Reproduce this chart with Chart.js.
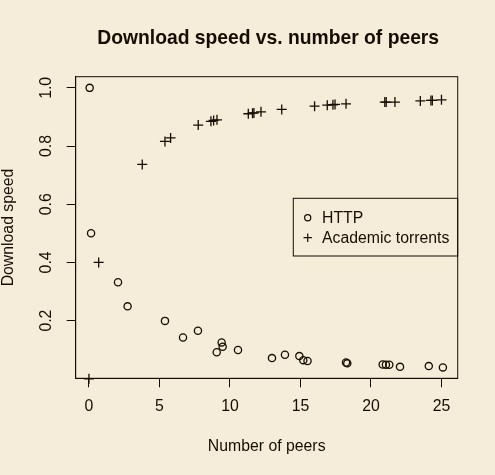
<!DOCTYPE html>
<html><head><meta charset="utf-8">
<script src="https://cdn.jsdelivr.net/npm/chart.js@4"></script>
<style>html,body{margin:0;padding:0;background:#F5EDDA;overflow:hidden}#wrap{width:495px;height:475px}</style>
</head><body><div id="wrap"><canvas id="c" width="495" height="475"></canvas></div>
<script>
// ---- data ----
const httpPeers = [0.05, 0.15, 2.06, 2.74, 5.39, 6.67, 7.73, 9.06, 9.41, 9.48, 10.57, 12.98, 13.9, 14.92, 15.2, 15.5, 18.23, 18.32, 20.83, 21.06, 21.3, 22.06, 24.1, 25.1];
const httpSpeed = [1.0, 0.5, 0.332, 0.249, 0.199, 0.142, 0.165, 0.091, 0.125, 0.110, 0.099, 0.071, 0.0825, 0.078, 0.064, 0.061, 0.056, 0.053, 0.049, 0.048, 0.048, 0.041, 0.0436, 0.039];
const torrentPeers = [0, 0.69, 3.78, 5.39, 5.79, 7.75, 8.65, 8.84, 9.08, 11.3, 11.6, 11.7, 12.2, 13.67, 16.0, 16.9, 17.3, 17.45, 18.23, 20.98, 21.08, 21.7, 23.5, 24.25, 24.35, 25.0];
const torrentSpeed = [0, 0.4, 0.737, 0.816, 0.828, 0.872, 0.885, 0.888, 0.890, 0.911, 0.913, 0.914, 0.9175, 0.926, 0.937, 0.9405, 0.942, 0.943, 0.945, 0.951, 0.951, 0.951, 0.955, 0.957, 0.957, 0.959];
const xTicks = [0, 5, 10, 15, 20, 25];
const yTicks = [0.2, 0.4, 0.6, 0.8, 1.0];
const seriesNames = ['HTTP', 'Academic torrents'];
const titleText = 'Download speed vs. number of peers';
const xTitle = 'Number of peers';
const yTitle = 'Download speed';

// ---- style ----
const INK = '#160d00';
const BG = '#F5EDDA';
const FONT = '"Liberation Sans", Arial, Helvetica, sans-serif';
const FS = 15.8;

const toPts = (xs, ys) => xs.map((x, i) => ({x: x, y: ys[i]}));

const rPlugin = {
  id: 'rstyle',
  beforeDraw(chart) {
    const ctx = chart.ctx;
    ctx.save();
    ctx.fillStyle = BG;
    ctx.fillRect(0, 0, chart.width, chart.height);
    ctx.restore();
  },
  afterDraw(chart) {
    const ctx = chart.ctx;
    const a = chart.chartArea;
    const ys = chart.scales.y;
    const cx = (a.left + a.right) / 2;
    ctx.save();
    ctx.strokeStyle = INK;
    ctx.lineWidth = 1;
    ctx.strokeRect(a.left, a.top, a.right - a.left, a.bottom - a.top);
    ctx.fillStyle = INK;
    // title
    ctx.font = 'bold 19.3px ' + FONT;
    ctx.textAlign = 'center';
    ctx.textBaseline = 'middle';
    ctx.fillText(titleText, cx + 1.5, 38.5);
    // x title
    ctx.font = FS + 'px ' + FONT;
    ctx.fillText(xTitle, cx, 446.5);
    // y title
    ctx.save();
    ctx.translate(8.8, (a.top + a.bottom) / 2);
    ctx.rotate(-Math.PI / 2);
    ctx.fillText(yTitle, 0, 0);
    ctx.restore();
    // y tick labels (rotated, R style)
    ys.ticks.forEach(t => {
      const py = ys.getPixelForValue(t.value);
      ctx.save();
      ctx.translate(47, py);
      ctx.rotate(-Math.PI / 2);
      ctx.fillText(t.value.toFixed(1), 0, 0);
      ctx.restore();
    });
    // legend
    const lx = 293.3, ly = 198.3, lw = a.right - lx, lh = 57.7;
    ctx.strokeRect(lx, ly, lw, lh);
    ctx.textAlign = 'left';
    ctx.lineWidth = 1.2;
    ctx.beginPath();
    ctx.arc(lx + 14.4, ly + 19.4, 3.1, 0, Math.PI * 2);
    ctx.stroke();
    ctx.fillText(seriesNames[0], lx + 28.7, ly + 20);
    ctx.beginPath();
    ctx.moveTo(lx + 14.4 - 4.2, ly + 39.4); ctx.lineTo(lx + 14.4 + 4.2, ly + 39.4);
    ctx.moveTo(lx + 14.4, ly + 39.4 - 4.2); ctx.lineTo(lx + 14.4, ly + 39.4 + 4.2);
    ctx.stroke();
    ctx.fillText(seriesNames[1], lx + 28.7, ly + 40);
    ctx.restore();
  }
};

new Chart(document.getElementById('c'), {
  type: 'scatter',
  data: {
    datasets: [
      {
        label: seriesNames[0],
        data: toPts(httpPeers, httpSpeed),
        pointStyle: 'circle',
        pointRadius: 3.6,
        pointBorderWidth: 1.3,
        borderColor: INK,
        backgroundColor: 'rgba(0,0,0,0)',
        pointHoverRadius: 3.6,
        clip: false
      },
      {
        label: seriesNames[1],
        data: toPts(torrentPeers, torrentSpeed),
        pointStyle: 'cross',
        pointRadius: 5,
        pointBorderWidth: 1.3,
        borderColor: INK,
        backgroundColor: INK,
        pointHoverRadius: 5,
        clip: false
      }
    ]
  },
  options: {
    responsive: false,
    devicePixelRatio: 1,
    animation: false,
    events: [],
    layout: {padding: {left: 0, top: 76.7, right: 37.3, bottom: 0}},
    plugins: {legend: {display: false}, tooltip: {enabled: false}, title: {display: false}},
    scales: {
      x: {
        type: 'linear',
        position: 'bottom',
        min: -0.94,
        max: 26.15,
        afterBuildTicks: s => { s.ticks = xTicks.map(v => ({value: v})); },
        afterFit: s => { s.height = 96.7; },
        ticks: {color: INK, font: {family: FONT, size: FS}, padding: 10, maxRotation: 0, autoSkip: false},
        grid: {drawOnChartArea: false, drawTicks: true, tickLength: 9, color: INK, lineWidth: 1},
        border: {display: true, color: INK, width: 1}
      },
      y: {
        type: 'linear',
        position: 'left',
        min: 0.0016,
        max: 1.0384,
        afterBuildTicks: s => { s.ticks = yTicks.map(v => ({value: v})); },
        afterFit: s => { s.width = 75.7; },
        ticks: {display: false},
        grid: {drawOnChartArea: false, drawTicks: true, tickLength: 9, color: INK, lineWidth: 1},
        border: {display: true, color: INK, width: 1}
      }
    }
  },
  plugins: [rPlugin]
});
</script>
</body></html>
